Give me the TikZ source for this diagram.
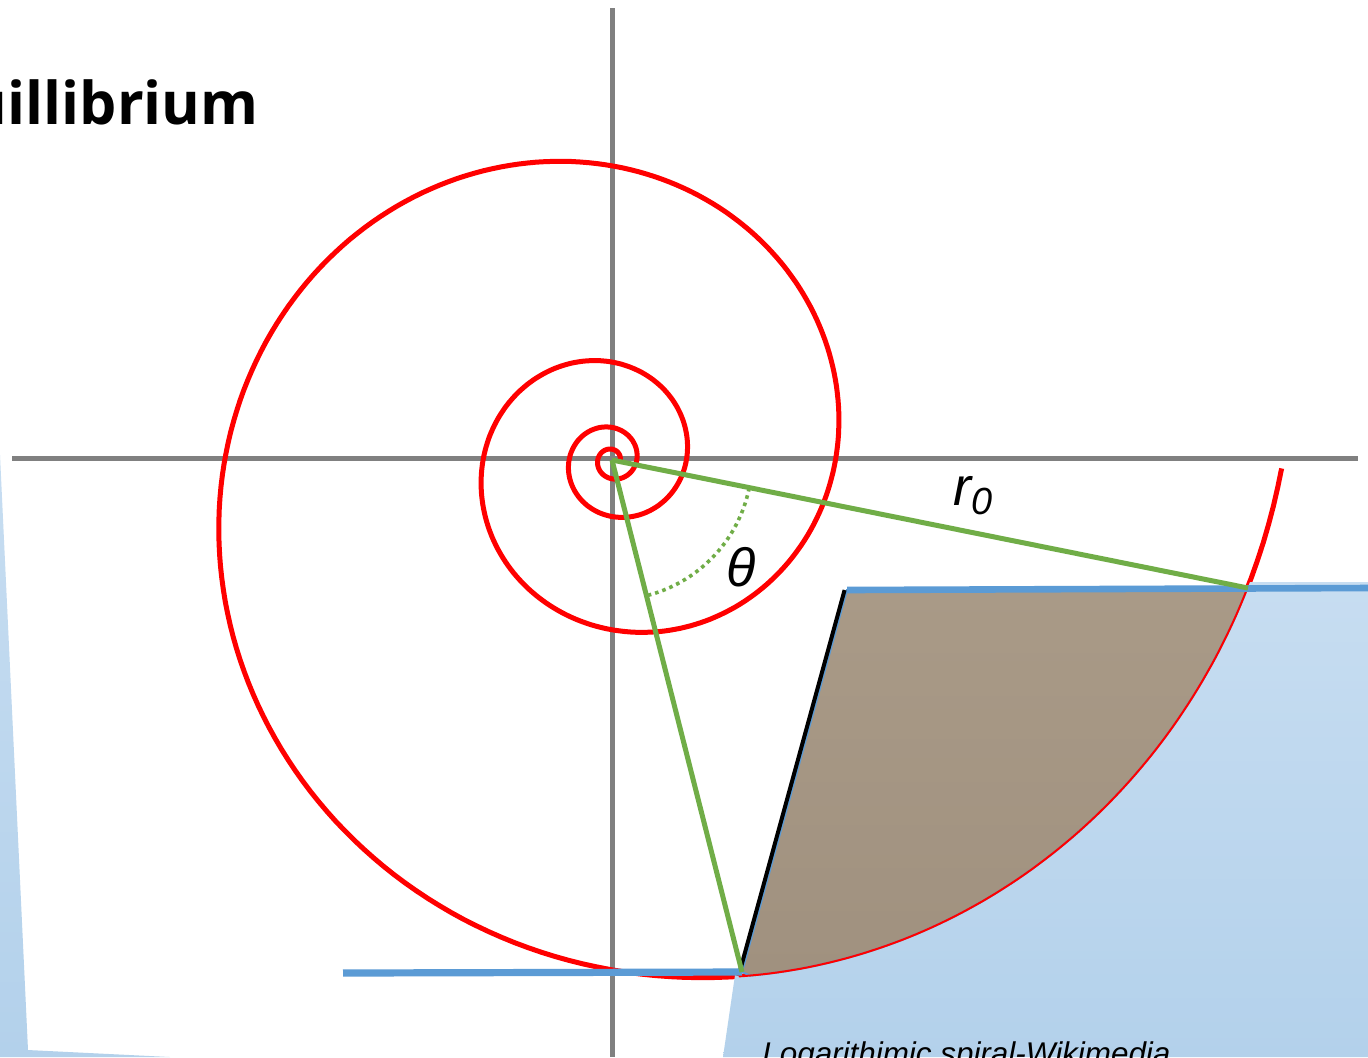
\documentclass[tikz,border=0pt]{standalone}
\usepackage{fontspec}
\setmainfont{Liberation Sans}
\newfontfamily\titlefont{Open Sans}
\definecolor{axisgray}{RGB}{128,128,128}
\definecolor{spiralred}{RGB}{255,0,0}
\definecolor{lgreen}{RGB}{112,173,71}
\definecolor{lblue}{RGB}{91,155,213}
\definecolor{paletop}{RGB}{199,221,241}
\definecolor{palebot}{RGB}{179,209,235}
\definecolor{browntop}{RGB}{169,154,135}
\definecolor{brownbot}{RGB}{160,145,127}
\begin{document}
\begin{tikzpicture}[x=0.5pt,y=-0.5pt,
  axisline/.style={draw=axisgray,line width=2.5pt},
  spiralline/.style={draw=spiralred,line width=2.5pt},
  greenline/.style={draw=lgreen,line width=2.5pt},
  angarc/.style={draw=lgreen,line width=1.8pt,dash pattern=on 1.8pt off 2pt},
  blueline/.style={draw=lblue,line width=3.3pt},
  paleregion/.style={top color=paletop,bottom color=palebot,draw=none},
  brownregion/.style={top color=browntop,bottom color=brownbot},
  mathlabel/.style={font=\fontsize{27}{30}\selectfont\itshape,inner sep=0pt}]
\useasboundingbox (0,0) rectangle (1368,1057);
\clip (0,0) rectangle (1368,1057);
\fill[white] (0,0) rectangle (1368,1057);
% named points
\coordinate (O) at (612,460);
\coordinate (A) at (1248,588);
\coordinate (B) at (742,972);
\coordinate (C) at (847,590);
\coordinate (Bl) at (343,973);
\coordinate (Ar) at (1368,588);
% left pale sliver
\path[paleregion] (0,455) -- (28,1050) -- (170,1057) -- (0,1057) -- cycle;
% axes
\coordinate (xl) at (12,458);
\coordinate (xr) at (1358,458);
\coordinate (yt) at (612,8);
\coordinate (yb) at (612,1057);
\draw[axisline] (xl) -- (xr);
\draw[axisline] (yt) -- (yb);
% spiral
\draw[spiralline] plot[domain=-25.5:0,samples=900,variable=\t]
  ({612+671*exp(0.175*\t)*cos(\t r)},{460-671*exp(0.175*\t)*sin(\t r)});
% pale region on the right
\path[paleregion] (723,1057) -- (735,975) --
  plot[domain=-1.33:-0.2,samples=80,variable=\t]
  ({612+671*exp(0.175*\t)*cos(\t r)},{460-671*exp(0.175*\t)*sin(\t r)})
  -- (1250,582) -- (1368,582) -- (1368,1057) -- cycle;
% brown region
\path[brownregion,draw=lblue,line width=1pt] (C) -- (A) --
  plot[domain=0:1,samples=80,variable=\u]
  ({612+671*exp(0.175*(-0.2-1.11*\u))*cos((-0.2-1.11*\u) r)},{460-671*exp(0.175*(-0.2-1.11*\u))*sin((-0.2-1.11*\u) r)})
  -- (B) -- cycle;
\draw[draw=spiralred,line width=1pt] plot[domain=-1.33:-0.2,samples=80,variable=\t]
  ({612+671*exp(0.175*\t)*cos(\t r)},{460-671*exp(0.175*\t)*sin(\t r)});
% black edge
\draw[black,line width=2pt] ([xshift=-1.2pt]B) -- ([xshift=-1.2pt]C);
% blue lines
\draw[blueline] (C) -- (Ar);
\draw[blueline,line width=3.6pt] (Bl) -- (B);
% green radii
\draw[greenline] (O) -- (A);
\draw[greenline] (O) -- (B);
\draw[angarc] plot[domain=11.5:75,samples=40,variable=\a]
  ({612+140*cos(\a)},{460+140*sin(\a)});
% labels
\node[mathlabel] (theta) at (741,567) {θ};
\node[mathlabel] (rzero) at (973,496) {r\textsubscript{0}};
\node[anchor=base east,inner sep=0pt,font=\titlefont\bfseries\fontsize{29.5}{32}\selectfont] (title) at (259,124) {uillibrium};
\node[anchor=base west,inner sep=0pt,font=\fontsize{15.7}{18}\selectfont\itshape] (credit) at (762,1064) {Logarithimic spiral-Wikimedia};
\end{tikzpicture}
\end{document}
